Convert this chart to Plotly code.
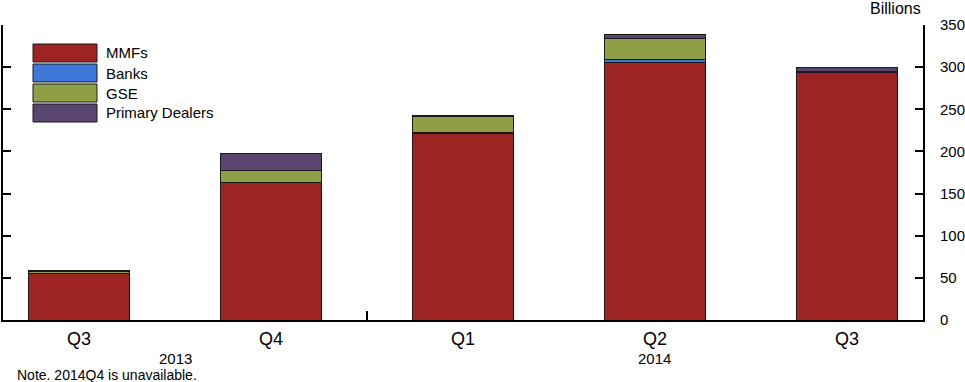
import plotly.graph_objects as go

quarters = ["Q3", "Q4", "Q1", "Q2", "Q3"]
years = ["2013", "2014"]
series_names = ["MMFs", "Banks", "GSE", "Primary Dealers"]
mmfs = [55, 163, 221, 305, 294]
banks = [0.3, 0.3, 1, 4.5, 1]
gse = [2.5, 13.5, 20, 24.5, 0.3]
dealers = [0.5, 21, 0.3, 5, 4.5]
colors = ["#9E2424", "#3F78D8", "#8F9F45", "#5A4570"]

W, H = 965, 382
L, R, T, B = 3, 42, 25, 62
x_pos = list(range(len(quarters)))

fig = go.Figure()
for name, vals, col in zip(series_names, [mmfs, banks, gse, dealers], colors):
    fig.add_trace(go.Bar(
        x=x_pos, y=vals, name=name, marker=dict(color=col, line=dict(color="#1a1a1a", width=1)),
        width=0.53, showlegend=False,
    ))

# invisible trace for secondary x axis (year separator tick)
fig.add_trace(go.Scatter(x=[0], y=[0], xaxis="x2", mode="markers",
                         marker=dict(opacity=0), showlegend=False, hoverinfo="skip"))

def px_to_paper_x(px):
    return (px - L) / (W - L - R)

def px_to_paper_y(py):
    return (H - B - py) / (H - T - B)

shapes = []
annotations = []
for i, (name, col) in enumerate(zip(series_names, colors)):
    top = 44 + i * 20
    shapes.append(dict(type="rect", xref="paper", yref="paper",
                       x0=px_to_paper_x(33), x1=px_to_paper_x(97),
                       y0=px_to_paper_y(top + 18), y1=px_to_paper_y(top),
                       fillcolor=col, line=dict(color="#1a1a1a", width=1)))
    annotations.append(dict(text=name, xref="paper", yref="paper",
                            x=px_to_paper_x(104), y=px_to_paper_y(top + 9),
                            xanchor="left", yanchor="middle", showarrow=False,
                            font=dict(size=15, color="#000")))

# year labels
annotations.append(dict(text=years[0], x=0.5, xref="x", yref="paper",
                        y=px_to_paper_y(358), yanchor="middle", showarrow=False,
                        font=dict(size=15, color="#000")))
annotations.append(dict(text=years[1], x=3, xref="x", yref="paper",
                        y=px_to_paper_y(358), yanchor="middle", showarrow=False,
                        font=dict(size=15, color="#000")))
annotations.append(dict(text="Note. 2014Q4 is unavailable.", xref="paper", yref="paper",
                        x=px_to_paper_x(15), y=px_to_paper_y(375), xanchor="left",
                        yanchor="middle", showarrow=False, font=dict(size=14, color="#000")))
annotations.append(dict(text="Billions", xref="paper", yref="paper",
                        x=1.0, y=px_to_paper_y(8), xanchor="right",
                        yanchor="middle", showarrow=False, font=dict(size=16, color="#000")))

fig.update_layout(
    width=W, height=H, barmode="stack",
    margin=dict(l=L, r=R, t=T, b=B, autoexpand=False),
    paper_bgcolor="white", plot_bgcolor="white",
    font=dict(family="Liberation Sans, Arial, sans-serif", color="#000"),
    xaxis=dict(range=[-0.396, 4.396], tickvals=x_pos, ticktext=quarters, ticks="",
               showline=True, linecolor="#000", linewidth=2, showgrid=False, zeroline=False,
               tickfont=dict(size=18), ticklabelstandoff=1, automargin=False),
    xaxis2=dict(range=[-0.396, 4.396], overlaying="x", side="bottom", tickvals=[1.5],
                ticks="inside", ticklen=9, tickwidth=2, tickcolor="#000",
                showticklabels=False, showline=False, showgrid=False, zeroline=False,
                automargin=False),
    yaxis=dict(range=[0, 350], side="right", tickvals=[0, 50, 100, 150, 200, 250, 300, 350],
               ticks="inside", ticklen=8, tickwidth=2, tickcolor="#000",
               showline=True, linecolor="#000", linewidth=2, mirror="ticks",
               showgrid=False, zeroline=False, tickfont=dict(size=15),
               ticklabelstandoff=12, automargin=False),
    shapes=shapes, annotations=annotations,
)

fig.write_html("out.html", config={"displayModeBar": False},
               post_script="document.body.style.margin='0px';document.body.style.overflow='hidden';")
